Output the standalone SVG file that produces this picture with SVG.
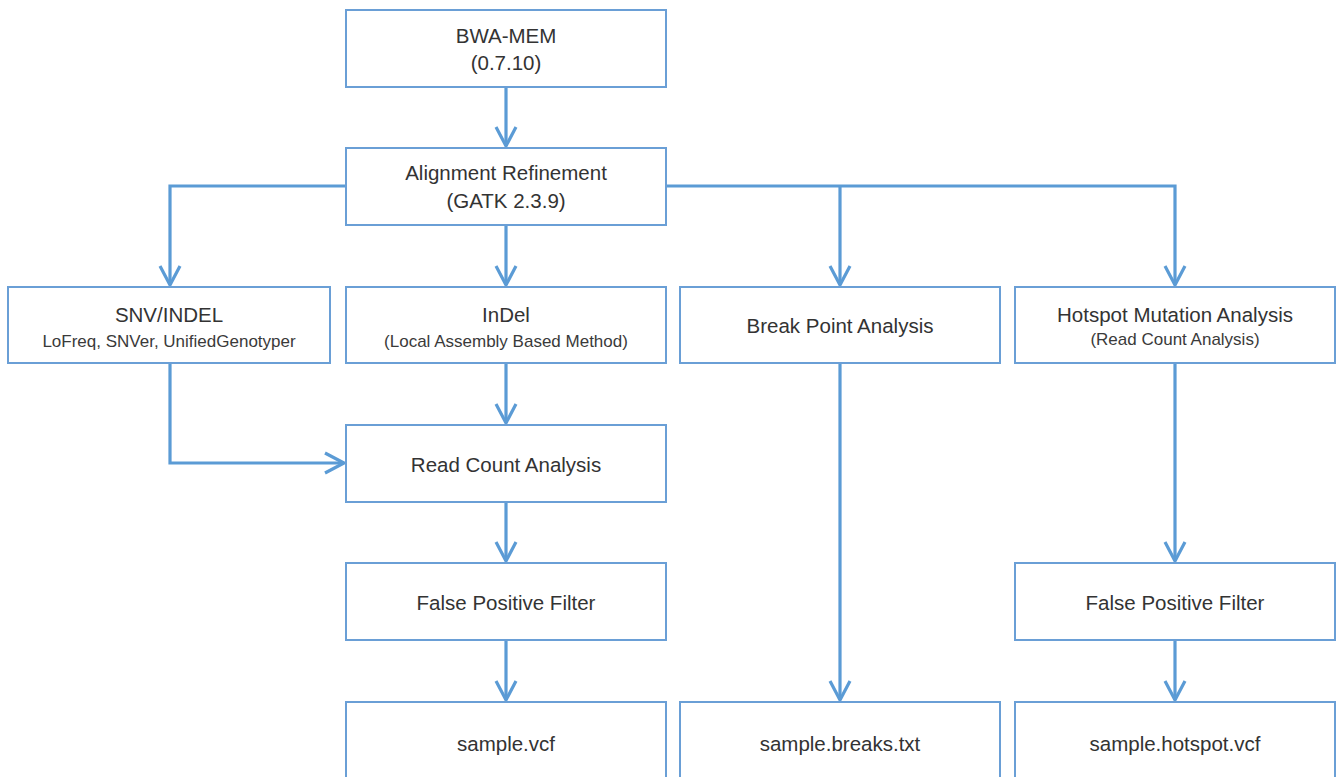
<svg xmlns="http://www.w3.org/2000/svg" width="1338" height="777" viewBox="0 0 1338 777">
<style>
.box{fill:#fff;stroke:#6a9fd6;stroke-width:2}
.t{font-family:"Liberation Sans",Arial,sans-serif;font-size:20.5px;fill:#333;text-anchor:middle}
.s{font-family:"Liberation Sans",Arial,sans-serif;font-size:17px;fill:#3a3a3a;text-anchor:middle}
.c{fill:none;stroke:#5b9bd5;stroke-width:3.2}
</style>
<defs>
<marker id="ah" viewBox="0 0 24 24" refX="21" refY="12" markerWidth="24" markerHeight="24" markerUnits="userSpaceOnUse" orient="auto">
<path d="M2,2 L21,12 L2,22" fill="none" stroke="#5b9bd5" stroke-width="3.2"/>
</marker>
</defs>
<rect width="1338" height="777" fill="#fff"/>
<g id="connectors">
<path class="c" d="M506,88 V146" marker-end="url(#ah)"/>
<path class="c" d="M346,186 H170 V285" marker-end="url(#ah)"/>
<path class="c" d="M506,225 V285" marker-end="url(#ah)"/>
<path class="c" d="M666,186 H1175 V285" marker-end="url(#ah)"/>
<path class="c" d="M840,186 V285" marker-end="url(#ah)"/>
<path class="c" d="M170,363 V463 H344" marker-end="url(#ah)"/>
<path class="c" d="M506,363 V423" marker-end="url(#ah)"/>
<path class="c" d="M506,502 V561" marker-end="url(#ah)"/>
<path class="c" d="M840,363 V700" marker-end="url(#ah)"/>
<path class="c" d="M1175,363 V561" marker-end="url(#ah)"/>
<path class="c" d="M506,640 V700" marker-end="url(#ah)"/>
<path class="c" d="M1175,640 V700" marker-end="url(#ah)"/>
</g>
<g id="bwa"><rect class="box" x="346" y="10" width="320" height="77"/><text class="t" x="506" y="43">BWA-MEM</text><text class="t" x="506" y="70">(0.7.10)</text></g>
<g id="align"><rect class="box" x="346" y="148" width="320" height="77"/><text class="t" x="506" y="180">Alignment Refinement</text><text class="t" x="506" y="208">(GATK 2.3.9)</text></g>
<g id="snv"><rect class="box" x="8" y="287" width="322" height="76"/><text class="t" x="169" y="322">SNV/INDEL</text><text class="s" x="169" y="347">LoFreq, SNVer, UnifiedGenotyper</text></g>
<g id="indel"><rect class="box" x="346" y="287" width="320" height="76"/><text class="t" x="506" y="322">InDel</text><text class="s" x="506" y="347">(Local Assembly Based Method)</text></g>
<g id="break"><rect class="box" x="680" y="287" width="320" height="76"/><text class="t" x="840" y="333">Break Point Analysis</text></g>
<g id="hotspot"><rect class="box" x="1015" y="287" width="320" height="76"/><text class="t" x="1175" y="322">Hotspot Mutation Analysis</text><text class="s" x="1175" y="345">(Read Count Analysis)</text></g>
<g id="readcount"><rect class="box" x="346" y="425" width="320" height="77"/><text class="t" x="506" y="472">Read Count Analysis</text></g>
<g id="fpf1"><rect class="box" x="346" y="563" width="320" height="77"/><text class="t" x="506" y="610">False Positive Filter</text></g>
<g id="fpf2"><rect class="box" x="1015" y="563" width="320" height="77"/><text class="t" x="1175" y="610">False Positive Filter</text></g>
<g id="vcf"><rect class="box" x="346" y="702" width="320" height="90"/><text class="t" x="506" y="751">sample.vcf</text></g>
<g id="breaks"><rect class="box" x="680" y="702" width="320" height="90"/><text class="t" x="840" y="751">sample.breaks.txt</text></g>
<g id="hsvcf"><rect class="box" x="1015" y="702" width="320" height="90"/><text class="t" x="1175" y="751">sample.hotspot.vcf</text></g>
</svg>
